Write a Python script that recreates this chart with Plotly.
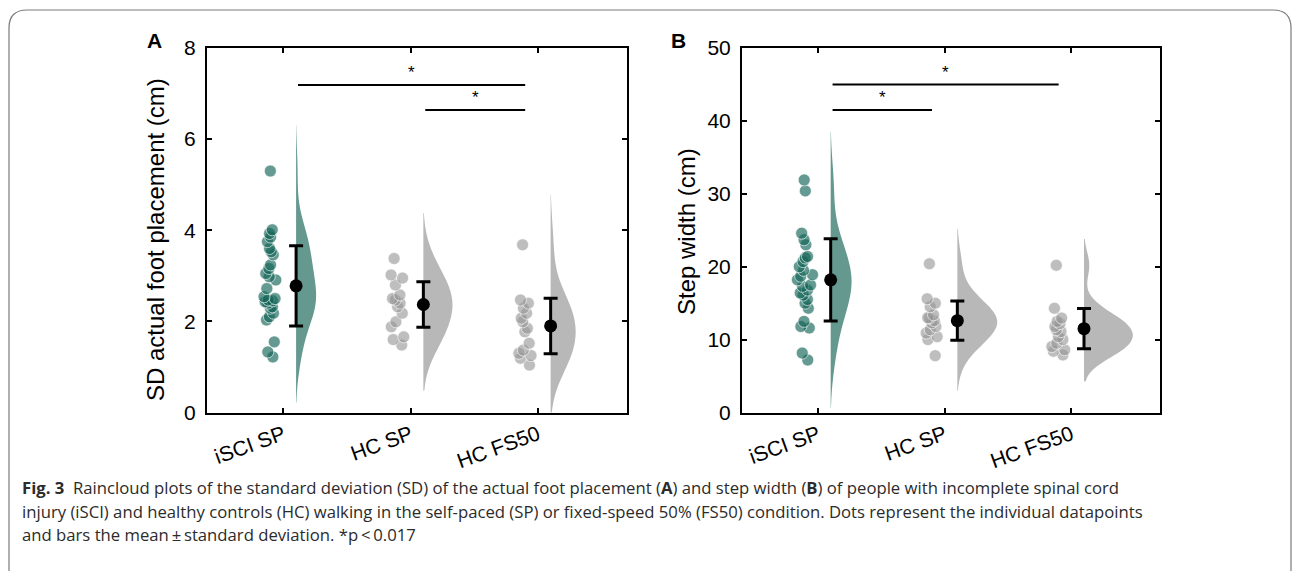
import plotly.graph_objects as go

# ---------------- data ----------------
categories = ["iSCI SP", "HC SP", "HC FS50"]

a_iscisp = [5.30, 4.01, 3.93, 3.85, 3.75, 3.60, 3.53, 3.46, 3.24, 3.16, 3.05, 2.98, 2.91, 2.72,
            2.54, 2.50, 2.47, 2.45, 2.43, 2.40, 2.32, 2.29, 2.18, 2.10, 2.03, 1.55, 1.33, 1.22]
a_hcsp = [3.38, 3.02, 2.95, 2.80, 2.58, 2.50, 2.47, 2.40, 2.32, 2.18, 1.99, 1.88, 1.66, 1.60, 1.48]
a_hcfs50 = [3.68, 2.47, 2.40, 2.29, 2.18, 2.07, 1.99, 1.85, 1.77, 1.52, 1.37, 1.30, 1.25, 1.19, 1.04]
a_mean = [2.78, 2.37, 1.90]
a_sd = [0.88, 0.50, 0.61]

b_iscisp = [31.9, 30.4, 24.6, 23.7, 23.0, 21.4, 21.2, 20.7, 20.0, 19.5, 18.9, 18.7, 18.2, 17.5,
            17.3, 16.8, 16.4, 16.1, 15.5, 15.0, 14.3, 12.5, 11.8, 11.6, 8.15, 7.2]
b_hcsp = [20.4, 15.6, 15.0, 14.5, 13.4, 13.0, 12.95, 12.6, 12.3, 11.8, 11.35, 10.9, 10.4, 10.0, 7.8]
b_hcfs50 = [20.2, 14.3, 12.95, 12.5, 12.2, 11.8, 11.35, 11.1, 10.4, 10.0, 9.5, 9.05, 8.6, 8.4, 7.9]
b_mean = [18.2, 12.6, 11.5]
b_sd = [5.65, 2.7, 2.75]

a_yticks = [0, 2, 4, 6, 8]
b_yticks = [0, 10, 20, 30, 40, 50]

# significance: (from category, to category, height)
a_sig = [(1, 3, 7.19), (2, 3, 6.64)]
b_sig = [(1, 3, 45.0), (1, 2, 41.5)]

caption_lines = [
    "<b>Fig. 3</b>  Raincloud plots of the standard deviation (SD) of the actual foot placement (<b>A</b>) and step width (<b>B</b>) of people with incomplete spinal cord",
    "injury (iSCI) and healthy controls (HC) walking in the self-paced (SP) or fixed-speed 50% (FS50) condition. Dots represent the individual datapoints",
    "and bars the mean\u2009\u00b1\u2009standard deviation. *p\u2009<\u20090.017",
]

# ---------------- style ----------------
W, H = 1293, 571
TEAL_DOT = "rgba(19,102,88,0.66)"
GREY_DOT = "rgba(150,150,150,0.62)"
TEAL_CLOUD = "rgb(101,152,143)"
GREY_CLOUD = "rgb(184,184,184)"
FONT = "Liberation Sans"
CAP_FONT = "Open Sans"

panels = [
    dict(groups=[a_iscisp, a_hcsp, a_hcfs50], mean=a_mean, sd=a_sd, xa="x", ya="y",
         dom_x=(207, 627), ticks=a_yticks, rng=[0, 8], title="SD actual foot placement (cm)",
         bw=[0.5, 0.5, 0.55], vw=[0.314, 0.456, 0.393], sig=a_sig, letter="A", lx=154,
         tx=155, ty=240),
    dict(groups=[b_iscisp, b_hcsp, b_hcfs50], mean=b_mean, sd=b_sd, xa="x2", ya="y2",
         dom_x=(742, 1160), ticks=b_yticks, rng=[0, 50], title="Step width (cm)",
         bw=[3.3, 2.4, 1.8], vw=[0.33, 0.63, 0.77], sig=b_sig, letter="B", lx=678,
         tx=686, ty=232),
]

fig = go.Figure()
shapes = []
annotations = []
DOT_OFF, CLOUD_OFF = -0.1, 0.1
Y_TOP, Y_BOT = 48, 412.5

for p_i, p in enumerate(panels):
    for i, vals in enumerate(p["groups"]):
        pos = i + 1
        dot_col = TEAL_DOT if i == 0 else GREY_DOT
        cloud_col = TEAL_CLOUD if i == 0 else GREY_CLOUD
        fig.add_trace(go.Violin(
            y=vals, x0=pos + CLOUD_OFF, side="positive", width=p["vw"][i],
            bandwidth=p["bw"][i], spanmode="soft", points=False,
            fillcolor=cloud_col, line=dict(width=0, color=cloud_col),
            box_visible=False, meanline_visible=False, showlegend=False,
            xaxis=p["xa"], yaxis=p["ya"], hoverinfo="skip"))
        fig.add_trace(go.Box(
            y=vals, x0=pos + DOT_OFF, boxpoints="all", jitter=1.0, pointpos=0, width=0.13,
            fillcolor="rgba(0,0,0,0)", line=dict(width=0, color="rgba(0,0,0,0)"),
            marker=dict(size=12, color=dot_col, line=dict(width=1, color="rgba(255,255,255,0.6)")),
            showlegend=False, xaxis=p["xa"], yaxis=p["ya"], hoverinfo="y"))
    fig.add_trace(go.Scatter(
        x=[k + 1 + CLOUD_OFF for k in range(3)], y=p["mean"], mode="markers",
        marker=dict(size=13, color="black"),
        error_y=dict(type="data", array=p["sd"], thickness=3, width=7, color="black"),
        showlegend=False, xaxis=p["xa"], yaxis=p["ya"]))
    xr = "x" if p["xa"] == "x" else "x2"
    yr = "y" if p["ya"] == "y" else "y2"
    for (c0, c1, h) in p["sig"]:
        x0 = c0 + 0.115
        x1 = c1 - 0.1
        shapes.append(dict(type="line", xref=xr, yref=yr, x0=x0, x1=x1, y0=h, y1=h,
                           line=dict(color="black", width=2)))
        annotations.append(dict(xref=xr, yref=yr, x=(x0 + x1) / 2, y=h, text="*",
                                showarrow=False, yshift=12, xanchor="center",
                                font=dict(size=17, color="black", family=FONT)))
    annotations.append(dict(xref="paper", yref="paper", x=p["lx"] / W, y=1 - 40 / H,
                            text="<b>%s</b>" % p["letter"], xanchor="center", yanchor="middle",
                            showarrow=False, font=dict(size=21, color="black", family=FONT)))
    annotations.append(dict(xref="paper", yref="paper", x=p["tx"] / W, y=1 - p["ty"] / H,
                            text=p["title"], textangle=-90, xanchor="center", yanchor="middle",
                            showarrow=False, font=dict(size=24, color="black", family=FONT)))

axis_common = dict(showline=True, linecolor="black", linewidth=2, mirror="ticks", ticks="inside",
                   ticklen=5, tickwidth=2, tickcolor="black", showgrid=False, zeroline=False,
                   automargin=False, tickfont=dict(size=21, color="black", family=FONT))
for p_i, p in enumerate(panels):
    sfx = "" if p_i == 0 else "2"
    fig.update_layout(**{
        "xaxis" + sfx: dict(axis_common, domain=[p["dom_x"][0] / W, p["dom_x"][1] / W],
                            range=[0.4, 3.7], tickvals=[1, 2, 3], ticktext=categories,
                            tickangle=-20, anchor="y" + sfx),
        "yaxis" + sfx: dict(axis_common, domain=[1 - Y_BOT / H, 1 - Y_TOP / H], range=p["rng"],
                            tickvals=p["ticks"], anchor="x" + sfx, ticklabelstandoff=5),
    })

# caption
cap_y = [487, 511, 534]
for t, yy in zip(caption_lines, cap_y):
    annotations.append(dict(xref="paper", yref="paper", x=20 / W, y=1 - yy / H, xanchor="left",
                            yanchor="middle", text=t, showarrow=False, align="left",
                            font=dict(size=16.7, color="#2b2b2b", family=CAP_FONT)))

# rounded frame
fx0, fx1, fy0, r = 9 / W, 1291 / W, 1 - 10 / H, 18
rx, ry = r / W, r / H
path = (f"M {fx0},-0.05 L {fx0},{fy0 - ry} Q {fx0},{fy0} {fx0 + rx},{fy0} "
        f"L {fx1 - rx},{fy0} Q {fx1},{fy0} {fx1},{fy0 - ry} L {fx1},-0.05")
shapes.append(dict(type="path", xref="paper", yref="paper", path=path,
                   line=dict(color="#7a7a7a", width=1.2)))

fig.update_layout(width=W, height=H, autosize=False, margin=dict(l=0, r=0, t=0, b=0, pad=0),
                  plot_bgcolor="white", paper_bgcolor="white", shapes=shapes,
                  annotations=annotations, violinmode="overlay", boxmode="overlay",
                  font=dict(family=FONT, color="black"))

fig.write_html("out.html")
